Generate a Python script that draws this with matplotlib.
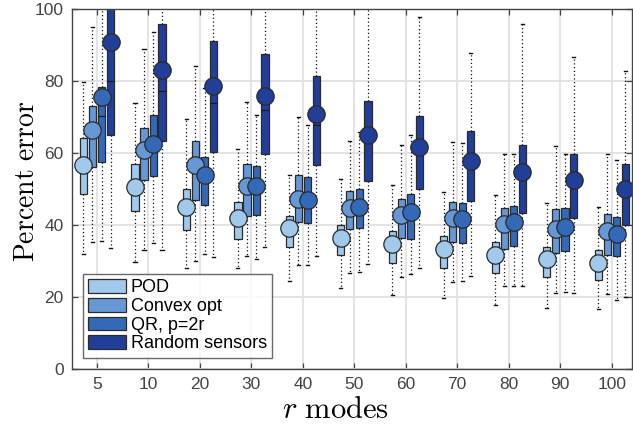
import numpy as np
import matplotlib
matplotlib.use("Agg")
import matplotlib.pyplot as plt
from matplotlib.patches import Patch

plt.rcParams["font.family"] = ["Liberation Sans", "DejaVu Sans"]
plt.rcParams["mathtext.fontset"] = "cm"

modes = ["5", "10", "20", "30", "40", "50", "60", "70", "80", "90", "100"]
methods = ["POD", "Convex opt", "QR, p=2r", "Random sensors"]
colors = ["#a0c9ec", "#6698d6", "#3469b8", "#213f98"]

# per method: mean, median, q1, q3, lower whisker, upper whisker
pod_mean = [56.8, 50.5, 44.9, 41.9, 39.1, 36.3, 34.7, 33.2, 31.6, 30.4, 29.3]
pod_med = [56.8, 50.5, 44.9, 41.9, 39.1, 36.3, 34.7, 33.2, 31.6, 30.4, 29.3]
pod_q1 = [48.6, 44.0, 38.5, 36.0, 33.8, 31.6, 29.3, 27.9, 26.5, 25.4, 24.7]
pod_q3 = [64.1, 57.0, 50.0, 46.5, 42.5, 40.0, 38.4, 36.8, 35.2, 33.8, 33.0]
pod_lo = [31.9, 29.7, 27.9, 27.9, 24.5, 22.5, 20.5, 19.6, 17.7, 16.9, 16.5]
pod_hi = [79.8, 74.0, 69.5, 61.2, 54.0, 52.8, 51.1, 49.1, 48.4, 46.1, 45.0]

cvx_mean = [66.4, 60.8, 56.7, 50.7, 47.2, 44.7, 42.8, 41.9, 40.2, 38.8, 38.2]
cvx_med = [66.4, 60.8, 56.7, 50.7, 47.2, 44.7, 42.8, 41.9, 40.2, 38.8, 38.2]
cvx_q1 = [56.0, 52.5, 47.0, 42.5, 40.7, 38.8, 36.3, 35.1, 33.3, 32.3, 31.7]
cvx_q3 = [73.0, 67.0, 63.3, 57.0, 53.8, 49.3, 47.2, 46.3, 44.7, 44.4, 43.1]
cvx_lo = [35.3, 33.0, 29.9, 31.4, 28.7, 26.5, 25.4, 24.0, 23.0, 21.0, 20.8]
cvx_hi = [95.0, 89.0, 84.2, 74.3, 70.0, 63.3, 62.3, 63.0, 59.6, 61.9, 59.8]

qr_mean = [75.6, 62.4, 53.9, 50.9, 47.0, 44.9, 43.5, 41.7, 40.9, 39.5, 37.5]
qr_med = [70.4, 62.4, 53.9, 50.9, 47.0, 44.9, 43.5, 41.7, 40.9, 39.5, 37.5]
qr_q1 = [57.6, 53.5, 45.4, 42.8, 40.5, 39.0, 36.0, 34.9, 34.0, 32.6, 31.2]
qr_q3 = [78.4, 70.7, 59.0, 56.5, 53.3, 50.0, 48.6, 46.1, 45.3, 44.7, 42.2]
qr_lo = [35.5, 35.0, 31.9, 30.4, 28.9, 27.0, 26.3, 24.4, 23.0, 21.4, 19.1]
qr_hi = [104.0, 93.8, 78.0, 70.7, 67.7, 66.0, 64.9, 62.8, 59.8, 59.8, 58.2]

rnd_mean = [91.0, 83.0, 78.8, 76.0, 70.9, 65.1, 61.7, 57.9, 54.7, 52.6, 50.0]
rnd_med = [80.1, 77.2, 73.8, 72.1, 67.7, 65.1, 61.7, 57.9, 54.7, 52.6, 50.0]
rnd_q1 = [65.0, 63.4, 60.4, 59.6, 56.7, 52.3, 50.0, 46.7, 43.3, 41.9, 40.0]
rnd_q3 = [108.0, 95.8, 91.1, 87.5, 81.4, 74.6, 70.4, 66.2, 62.2, 59.8, 57.0]
rnd_lo = [33.6, 32.9, 31.0, 33.8, 31.4, 29.1, 27.9, 25.8, 23.0, 21.1, 20.0]
rnd_hi = [115.0, 110.0, 108.0, 106.0, 104.0, 102.0, 98.0, 88.0, 96.0, 86.8, 82.8]

series = [
    (pod_mean, pod_med, pod_q1, pod_q3, pod_lo, pod_hi),
    (cvx_mean, cvx_med, cvx_q1, cvx_q3, cvx_lo, cvx_hi),
    (qr_mean, qr_med, qr_q1, qr_q3, qr_lo, qr_hi),
    (rnd_mean, rnd_med, rnd_q1, rnd_q3, rnd_lo, rnd_hi),
]
offsets = [-0.26, -0.085, 0.095, 0.265]

fig = plt.figure(figsize=(6.33, 4.28), dpi=100)
ax = fig.add_axes([0.114, 0.139, 0.884, 0.839])

x = np.arange(1, len(modes) + 1)
for k, (mean, med, q1, q3, lo, hi) in enumerate(series):
    stats = []
    for i in range(len(modes)):
        stats.append(dict(mean=mean[i], med=med[i], q1=q1[i], q3=q3[i],
                          whislo=lo[i], whishi=hi[i], fliers=[]))
    ax.bxp(stats, positions=x + offsets[k], widths=0.14, capwidths=0.06,
           patch_artist=True, showmeans=True, showfliers=False,
           boxprops=dict(facecolor=colors[k], edgecolor="#2a2a2a", linewidth=0.9),
           medianprops=dict(color="#1a1a1a", linewidth=0.9),
           whiskerprops=dict(color="#111111", linestyle=(0, (1, 2)), linewidth=0.9),
           capprops=dict(color="#111111", linewidth=1.0),
           meanprops=dict(marker="o", markersize=12.5, markerfacecolor=colors[k],
                          markeredgecolor="#2a2a2a", markeredgewidth=0.9),
           manage_ticks=False)

ax.set_xlim(0.52, 11.39)
ax.set_ylim(0, 100)
ax.set_xticks(x)
ax.set_xticklabels(modes)
ax.set_yticks([0, 20, 40, 60, 80, 100])
ax.grid(True, color="#e2e2e2", linewidth=1.3, zorder=0)
ax.set_axisbelow(True)
ax.tick_params(direction="in", length=4, width=0.9, color="#444444",
               labelcolor="#444444", labelsize=12.5, top=True, right=True, pad=6)
for sp in ax.spines.values():
    sp.set_color("#444444")
    sp.set_linewidth(1.0)

ax.set_xlabel(r"$r\ \mathrm{modes}$", fontsize=22)
ax.xaxis.set_label_coords(0.47, -0.075)
ax.set_ylabel(r"$\mathrm{Percent\ error}$", fontsize=20)
ax.yaxis.set_label_coords(-0.058, 0.52)

handles = [Patch(facecolor=c, edgecolor="#2a2a2a", linewidth=0.9) for c in colors]
leg = ax.legend(handles, methods, loc="lower left", bbox_to_anchor=(0.019, 0.03),
                fontsize=13, frameon=True, fancybox=False, edgecolor="#444444",
                handlelength=2.1, handleheight=0.8, handletextpad=0.25,
                labelspacing=0.08, borderpad=0.3, borderaxespad=0)
leg.get_frame().set_linewidth(1.0)

fig.savefig("out.png", dpi=100)
